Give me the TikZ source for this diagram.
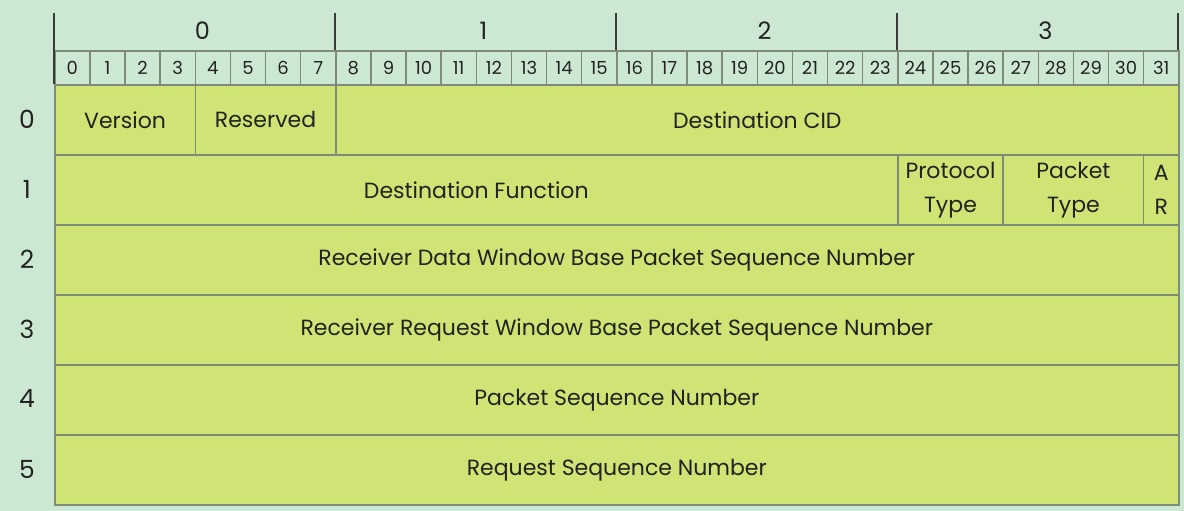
\documentclass[tikz,border=0pt]{standalone}
\usepackage{fontspec}
\setmainfont{Poppins}
\usetikzlibrary{calc}
\definecolor{bg}{HTML}{CDE8D2}
\definecolor{fieldfill}{HTML}{CFE474}
\definecolor{gridline}{HTML}{7E8B78}
\definecolor{tick}{HTML}{3A3A3A}
\definecolor{txt}{HTML}{222222}
\begin{document}
\begin{tikzpicture}[x=1pt,y=-1pt,
  fieldbox/.style={draw=gridline,line width=1.6pt,fill=fieldfill,anchor=north west,inner sep=0pt,
    align=center,text=txt,font=\fontsize{22}{34}\selectfont},
  bitbox/.style={draw=gridline,line width=1.6pt,anchor=north west,inner sep=0pt,
    minimum width=35.125pt,minimum height=34pt,text=txt,font=\fontsize{18}{18}\selectfont},
  bytelabel/.style={text=txt,font=\fontsize{24}{24}\selectfont},
  rowlabel/.style={text=txt,font=\fontsize{25}{25}\selectfont}]
\useasboundingbox[fill=bg] (0,0) rectangle (1184,511);
\def\bw{35.125}
\newcommand{\fld}[5]{% name, startbit, nbits, row, text
  \pgfmathsetmacro{\fx}{54+#2*\bw}
  \pgfmathsetmacro{\fw}{#3*\bw}
  \pgfmathsetmacro{\fy}{84+#4*70}
  \node[fieldbox,minimum width=\fw pt,minimum height=70pt] (#1) at (\fx,\fy) {#5};}
% bit header
\foreach \b in {0,...,31}{
  \node[bitbox] (bit\b) at ({54+\b*\bw},50) {\b};
}
% byte ticks and labels
\coordinate (tt0) at (54,13);
\coordinate (tt1) at (335,13);
\coordinate (tt2) at (616,13);
\coordinate (tt3) at (897,13);
\coordinate (tt4) at (1178,13);
\foreach \k in {0,...,4}{
  \draw[tick,line width=1.6pt] (tt\k) -- ++(0,37);
}
\draw[tick,line width=1.6pt] (tt0) -- ++(0,71);
\foreach \k/\n in {0/1,1/2,2/3,3/4}{
  \node[bytelabel] (byte\k) at ($(tt\k)!0.5!(tt\n)+(8,18)$) {\k};
}
% fields
\fld{version}{0}{4}{0}{Version}
\fld{reserved}{4}{4}{0}{Reserved}
\fld{dcid}{8}{24}{0}{Destination CID}
\fld{dfunc}{0}{24}{1}{Destination Function}
\fld{ptype}{24}{3}{1}{Protocol\\Type}
\fld{pktype}{27}{4}{1}{Packet\\Type}
\fld{ar}{31}{1}{1}{A\\R}
\fld{rdw}{0}{32}{2}{Receiver Data Window Base Packet Sequence Number}
\fld{rrw}{0}{32}{3}{Receiver Request Window Base Packet Sequence Number}
\fld{psn}{0}{32}{4}{Packet Sequence Number}
\fld{rsn}{0}{32}{5}{Request Sequence Number}
% row labels
\foreach \r in {0,...,5}{
  \node[rowlabel] (row\r) at (27,{84+\r*70+35}) {\r};
}
\end{tikzpicture}
\end{document}
